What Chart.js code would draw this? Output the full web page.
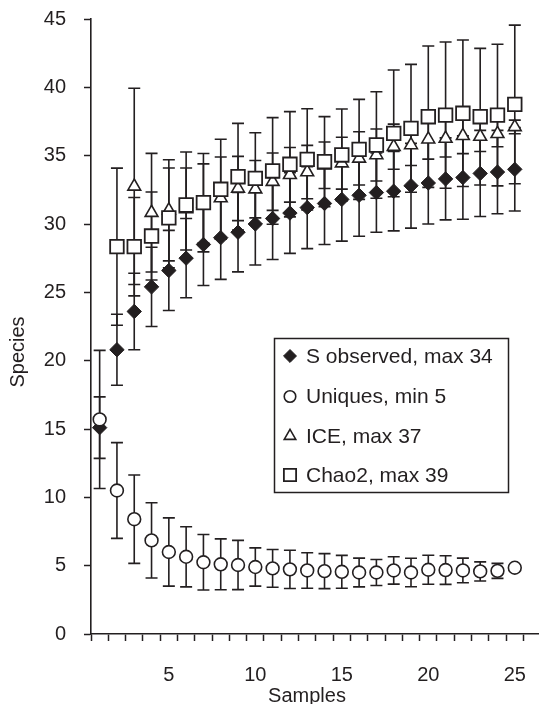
<!DOCTYPE html>
<html>
<head>
<meta charset="utf-8">
<script src="https://cdn.jsdelivr.net/npm/chart.js@4/dist/chart.umd.min.js"></script>
<style>
html,body{margin:0;padding:0;background:#ffffff;}
#wrap{width:539px;height:704px;position:relative;}
</style>
</head>
<body>
<div id="wrap"><canvas id="c" width="539" height="704"></canvas></div>
<script>
// ---- data ----
const samples = [1,2,3,4,5,6,7,8,9,10,11,12,13,14,15,16,17,18,19,20,21,22,23,24,25];
const sObserved   = [15.1,20.8,23.6,25.4,26.6,27.5,28.5,29.0,29.4,30.0,30.4,30.8,31.2,31.5,31.8,32.1,32.3,32.4,32.8,33.0,33.3,33.4,33.7,33.8,34.0];
const sObservedSD = [2.25,2.6,2.8,2.9,2.93,2.9,3.0,3.05,2.9,3.0,3.0,2.95,3.0,3.0,3.05,3.0,2.9,2.9,3.1,3.0,3.0,3.05,3.15,3.05,3.05];
const uniques     = [15.7,10.5,8.4,6.85,6.0,5.65,5.25,5.1,5.05,4.9,4.8,4.73,4.65,4.6,4.55,4.5,4.5,4.65,4.5,4.7,4.68,4.65,4.58,4.62,4.85];
const uniquesSD   = [5.05,3.5,3.23,2.75,2.5,2.2,2.03,1.86,1.8,1.4,1.38,1.4,1.3,1.28,1.2,1.05,0.95,1.0,1.04,1.06,1.05,0.9,0.7,0.55,0];
const ice         = [null,null,32.75,30.83,31.0,31.1,31.5,31.9,32.6,32.55,33.1,33.6,33.8,34.3,34.45,34.8,35.05,35.66,35.78,36.2,36.25,36.45,36.4,36.6,37.1];
const iceSD       = [null,null,7.18,4.34,3.7,3.0,2.9,3.0,2.35,2.1,2.1,2.0,1.95,1.7,1.9,1.95,1.9,1.65,1.5,1.45,1.35,1.3,1.1,0.95,0.5];
const chao2       = [null,28.34,28.34,29.12,30.45,31.39,31.56,32.54,33.46,33.34,33.88,34.37,34.73,34.56,35.05,35.46,35.78,36.63,37.0,37.85,37.97,38.1,37.85,37.97,38.75];
const chao2SD     = [null,5.75,3.6,3.22,3.65,3.88,3.6,3.66,3.9,3.34,3.9,3.85,3.7,3.3,3.36,3.66,3.9,4.64,4.68,5.17,5.35,5.36,5.0,5.18,5.8];
const seriesNames = ['S observed, max 34','Uniques, min 5','ICE, max 37','Chao2, max 39'];
const xTickLabels = [5,10,15,20,25];
const yTickValues = [0,5,10,15,20,25,30,35,40,45];
const xTitle = 'Samples';
const yTitle = 'Species';

const INK = '#231f20';
const FONT = '"Liberation Sans", Arial, Helvetica, sans-serif';

function pts(vals){
  const out = [];
  samples.forEach((s,i)=>{ if(vals[i]!==null && vals[i]!==undefined) out.push({x:s,y:vals[i]}); });
  return out;
}

const styles = [
  {pointStyle:'rectRot', radius:7.2, bg:INK, bw:1},
  {pointStyle:'circle', radius:6.4, bg:'#ffffff', bw:1.6},
  {pointStyle:'triangle', radius:7.4, bg:'#ffffff', bw:1.6},
  {pointStyle:'rect', radius:9.6, bg:'#ffffff', bw:1.8}
];
const valueSets = [sObserved, uniques, ice, chao2];
const sdSets = [sObservedSD, uniquesSD, iceSD, chao2SD];
const orders = [3,2,1,0];

const datasets = valueSets.map((v,k)=>({
  label: seriesNames[k],
  data: pts(v),
  showLine: false,
  pointStyle: styles[k].pointStyle,
  pointRadius: styles[k].radius,
  pointHoverRadius: styles[k].radius,
  pointBackgroundColor: styles[k].bg,
  pointBorderColor: INK,
  pointBorderWidth: styles[k].bw,
  borderColor: INK,
  backgroundColor: styles[k].bg,
  order: orders[k],
  clip: false
}));

const errorBars = {
  id: 'errorBars',
  beforeDatasetsDraw(chart){
    const {ctx, scales:{x, y}} = chart;
    ctx.save();
    ctx.strokeStyle = INK;
    ctx.lineWidth = 1.6;
    const cap = 6;
    valueSets.forEach((vals,k)=>{
      const sds = sdSets[k];
      samples.forEach((s,i)=>{
        const v = vals[i], e = sds[i];
        if (v===null || e===null || !e) return;
        const px = x.getPixelForValue(s);
        const pt = y.getPixelForValue(v+e);
        const pb = y.getPixelForValue(v-e);
        ctx.beginPath();
        ctx.moveTo(px, pt); ctx.lineTo(px, pb);
        ctx.moveTo(px-cap, pt); ctx.lineTo(px+cap, pt);
        ctx.moveTo(px-cap, pb); ctx.lineTo(px+cap, pb);
        ctx.stroke();
      });
    });
    ctx.restore();
  }
};

function marker(ctx, style, cx, cy, r, bg, bw){
  ctx.save();
  ctx.fillStyle = bg; ctx.strokeStyle = INK; ctx.lineWidth = bw;
  ctx.beginPath();
  if (style==='rectRot'){
    ctx.moveTo(cx-r,cy); ctx.lineTo(cx,cy-r); ctx.lineTo(cx+r,cy); ctx.lineTo(cx,cy+r); ctx.closePath();
  } else if (style==='circle'){
    ctx.arc(cx,cy,r,0,Math.PI*2);
  } else if (style==='triangle'){
    for(let k=0;k<3;k++){
      const a = k*2*Math.PI/3;
      const px = cx+Math.sin(a)*r, py = cy-Math.cos(a)*r;
      if(k===0) ctx.moveTo(px,py); else ctx.lineTo(px,py);
    }
    ctx.closePath();
  } else {
    const h = Math.SQRT1_2*r;
    ctx.rect(cx-h,cy-h,2*h,2*h);
  }
  ctx.fill(); ctx.stroke();
  ctx.restore();
}

const legendAndTitles = {
  id: 'legendAndTitles',
  afterDraw(chart){
    const ctx = chart.ctx;
    ctx.save();
    ctx.fillStyle = INK;
    ctx.font = '20px ' + FONT;
    ctx.textAlign = 'center';
    ctx.textBaseline = 'alphabetic';
    ctx.fillText(xTitle, 307, 702);
    ctx.save();
    ctx.translate(18, 352);
    ctx.rotate(-Math.PI/2);
    ctx.textBaseline = 'middle';
    ctx.fillText(yTitle, 0, 0);
    ctx.restore();
    ctx.strokeStyle = INK;
    ctx.lineWidth = 1.5;
    ctx.strokeRect(274.5, 338.5, 234, 154);
    const rows = [356, 396.5, 436, 475];
    ctx.font = '21px ' + FONT;
    ctx.textAlign = 'left';
    ctx.textBaseline = 'middle';
    seriesNames.forEach((name,k)=>{
      const st = styles[k];
      marker(ctx, st.pointStyle, 290, rows[k], st.radius*0.9, st.bg, st.bw);
      ctx.fillStyle = INK;
      ctx.fillText(name, 306, rows[k]+1);
    });
    ctx.restore();
  }
};

new Chart(document.getElementById('c'), {
  type: 'scatter',
  data: { datasets },
  options: {
    responsive: false,
    animation: false,
    devicePixelRatio: 1,
    layout: { autoPadding: false, padding: { top: 19, left: 0, right: 0, bottom: 0 } },
    plugins: { legend: { display: false }, tooltip: { enabled: false } },
    scales: {
      x: {
        type: 'linear',
        min: 0.5,
        max: 26.4,
        afterFit: (s)=>{ s.height = 70; s.paddingLeft = 0; s.paddingRight = 0; },
        afterBuildTicks: (s)=>{
          const t = [];
          for (let v = 0.5; v <= 26.4; v += 0.5) t.push({ value: v });
          s.ticks = t;
        },
        ticks: {
          autoSkip: false, maxRotation: 0, minRotation: 0,
          padding: 22,
          color: INK,
          font: { family: FONT, size: 20 },
          callback: (v)=> xTickLabels.includes(v) ? String(v) : ''
        },
        grid: {
          display: true, drawOnChartArea: false, drawTicks: true,
          tickLength: 7, tickWidth: 1.5,
          tickColor: (c)=> (c.tick && Math.abs(c.tick.value % 1 - 0.5) < 1e-6) ? INK : 'rgba(0,0,0,0)'
        },
        border: { display: true, color: INK, width: 1.6 }
      },
      y: {
        type: 'linear',
        min: 0,
        max: 45,
        afterFit: (s)=>{ s.width = 91; s.paddingTop = 0; s.paddingBottom = 0; },
        afterBuildTicks: (s)=>{ s.ticks = yTickValues.map(v=>({value:v})); },
        ticks: {
          padding: 18,
          color: INK,
          font: { family: FONT, size: 20 }
        },
        grid: {
          display: true, drawOnChartArea: false, drawTicks: true,
          tickLength: 7, tickWidth: 1.5, tickColor: INK
        },
        border: { display: true, color: INK, width: 1.6 }
      }
    }
  },
  plugins: [errorBars, legendAndTitles]
});
</script>
</body>
</html>
